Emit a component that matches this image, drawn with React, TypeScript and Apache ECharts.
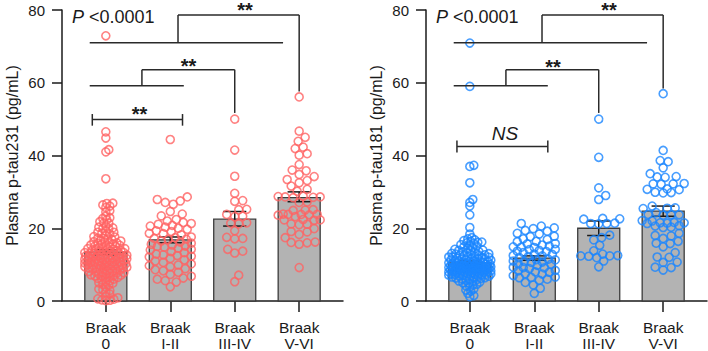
import React, { useEffect, useRef } from "react";
import * as echarts from "echarts";

// ---------- data ----------
const categories = ["Braak\n0", "Braak\nI-II", "Braak\nIII-IV", "Braak\nV-VI"];
const yMax = 80;
const yInterval = 20;

const tau231Mean = [13.4, 16.8, 22.5, 28.4];
const tau231Low = [12.7, 16.0, 20.6, 27.3];
const tau231High = [14.1, 17.6, 24.6, 30.0];

const tau181Mean = [10.5, 11.8, 20.0, 24.7];
const tau181Low = [10.0, 11.2, 18.0, 23.3];
const tau181High = [11.0, 12.4, 22.0, 26.1];

const tau231Braak0 = [72.9, 46.5, 44.8, 41.6, 41.0, 33.6,
  26.8, 26.4, 26.9, 26.1, 25.7, 24.8, 24.5, 23.3, 22.9, 22.7, 21.8, 21.4, 21.5, 20.6, 20.3, 19.8, 19.9, 19.2, 18.9, 18.9,
  18.4, 18.1, 17.7, 17.6, 17.2, 16.9, 16.9, 16.5, 16.3, 16.2, 15.8, 15.7, 15.6, 15.3, 15.1, 15.0, 14.9, 14.6, 14.4, 14.4,
  14.1, 13.9, 13.8, 13.6, 13.3, 13.3, 13.1, 12.8, 12.7, 12.6, 12.4, 12.2, 12.1, 12.0, 11.8, 11.7, 11.5, 11.4, 11.2, 11.0,
  10.9, 10.9, 10.6, 10.5, 10.3, 10.1, 10.0, 9.9, 9.7, 9.6, 9.4, 9.3, 9.1, 8.9, 8.9, 8.7, 8.4, 8.3, 8.2, 7.9, 7.8, 7.6,
  7.4, 7.1, 7.0, 6.8, 6.5, 6.2, 6.0, 5.6, 5.3, 5.0, 4.6, 4.4, 3.8, 3.3, 2.9, 2.4, 1.9, 1.4, 0.9, 0.5, 0.2, 0.1,
  14.7, 13.0, 11.9, 10.7, 9.8, 8.8, 12.5, 11.1, 15.4, 16.0, 10.2, 9.0, 13.7, 12.9, 17.3, 18.6, 8.0, 7.3, 6.6, 5.8,
  20.1, 22.3, 11.6, 10.4, 14.2, 13.5, 12.3, 9.5, 12.6, 11.3, 10.8, 9.2, 8.6, 7.7, 13.2, 14.3, 15.9, 11.8, 10.0, 8.1,
  6.9, 12.0, 13.9, 9.7, 10.6, 11.5, 7.2, 6.3, 4.9, 3.1, 16.6, 15.2, 12.2, 9.4, 0.3, 0.6];
const tau231Braak12 = [44.4, 28.6, 27.9, 27.5, 27.1, 26.6, 24.6, 23.9, 23.4, 22.4, 22.0, 21.6, 21.3, 20.8, 20.6, 20.3,
  20.0, 19.7, 19.3, 19.1, 18.6, 18.2, 17.6, 17.4, 17.2, 17.0, 16.9, 16.5, 16.2, 15.9, 15.6, 15.4, 15.1, 14.8, 14.5,
  14.2, 14.0, 13.6, 13.3, 12.9, 12.7, 12.3, 12.1, 11.7, 11.3, 11.0, 10.6, 10.2, 9.7, 9.4, 8.9, 8.6, 8.3, 7.9, 7.3,
  6.8, 6.3, 6.0, 5.6, 5.2, 3.9, 21.1, 18.5, 15.0, 12.5, 9.9];
const tau231Braak34 = [50.0, 41.5, 34.3, 29.6, 27.4, 27.6, 25.2, 25.1, 23.8, 23.2, 23.3, 21.5, 21.4, 21.2, 19.3, 17.5,
  17.1, 17.2, 14.2, 13.7, 13.2, 7.1, 5.3];
const tau231Braak56 = [56.1, 46.7, 45.0, 43.9, 42.3, 41.9, 40.5, 40.1, 37.5, 36.0, 35.8, 34.8, 34.2, 33.4, 33.1, 32.5,
  31.6, 30.7, 30.2, 28.8, 28.6, 28.5, 28.7, 28.4, 28.6, 27.1, 27.2, 25.0, 25.1, 24.9, 23.8, 23.9, 23.7, 23.8, 23.6,
  23.8, 23.2, 22.3, 22.4, 22.2, 22.3, 21.1, 21.0, 21.2, 19.9, 19.0, 19.1, 18.3, 17.4, 16.1, 16.2, 16.0, 15.6, 9.2];

const tau181Braak0 = [70.9, 59.0, 37.3, 37.0, 32.5, 27.9, 27.1, 26.1, 23.7, 20.2, 18.4, 17.4, 17.1, 16.8, 16.6, 16.4,
  16.2, 16.1, 15.8, 15.5, 15.3, 14.9, 14.7, 14.4, 14.2, 13.9, 13.8, 13.5, 13.3, 13.1, 12.9, 12.7, 12.6, 12.3, 12.1,
  12.0, 11.8, 11.6, 11.5, 11.3, 11.1, 11.0, 10.8, 10.7, 10.5, 10.4, 10.2, 10.1, 9.9, 9.8, 9.7, 9.5, 9.4, 9.2, 9.1,
  9.0, 8.8, 8.7, 8.6, 8.4, 8.3, 8.1, 8.0, 7.9, 7.7, 7.6, 7.4, 7.3, 7.1, 6.9, 6.8, 6.6, 6.4, 6.2, 6.0, 5.7, 5.5, 5.2,
  4.9, 4.6, 4.2, 3.8, 3.3, 2.7, 2.1, 1.5, 1.2,
  9.6, 8.9, 10.3, 7.8, 11.4, 12.4, 8.5, 9.3, 10.9, 7.2, 6.5, 13.0, 11.9, 10.0, 8.2, 9.7, 12.2, 7.5, 14.0, 15.1, 16.0,
  6.1, 5.4, 10.6, 11.7, 8.9, 9.9, 13.6, 7.0, 12.8,
  8.4, 9.1, 7.9, 8.7, 10.2, 9.4, 7.3, 8.1, 9.8, 10.6, 11.2, 7.6, 6.7, 8.8, 9.5, 10.4, 8.0, 7.1, 9.0, 11.6,
  12.1, 6.9, 8.6, 9.3, 10.8, 7.7, 8.3, 9.6, 6.3, 5.9, 10.1, 11.0, 8.5, 7.4, 9.2, 12.6, 13.3, 4.4, 3.0, 5.0];
const tau181Braak12 = [21.3, 20.6, 20.1, 19.9, 19.4, 19.2, 18.6, 18.4, 17.8, 17.7, 17.1, 16.9, 16.4, 16.3, 15.8, 15.7,
  15.1, 14.9, 14.7, 14.2, 14.1, 13.7, 13.6, 13.3, 12.9, 12.8, 12.4, 12.2, 11.9, 11.5, 11.4, 11.0, 10.9, 10.6, 10.2,
  10.1, 9.8, 9.3, 9.2, 8.9, 8.4, 8.3, 7.9, 7.5, 7.4, 7.0, 6.6, 6.4, 6.0, 5.7, 5.1, 4.4, 3.5, 2.1, 12.5, 13.9, 11.3,
  10.7, 9.1, 14.8, 8.0, 15.4, 6.5];
const tau181Braak34 = [50.0, 39.5, 31.1, 29.0, 27.9, 22.7, 22.5, 22.6, 21.3, 21.4, 21.2, 21.3, 18.1, 17.4, 16.8, 15.3,
  13.8, 12.9, 12.4, 12.5, 12.3, 12.4, 11.9, 11.0, 9.4];
const tau181Braak56 = [57.0, 41.4, 38.6, 38.3, 36.6, 35.0, 34.1, 34.2, 34.0, 32.2, 32.3, 32.1, 32.2, 30.7, 30.8, 30.6,
  29.8, 29.9, 29.7, 26.1, 25.5, 25.6, 25.4, 24.3, 23.7, 23.8, 23.6, 23.7, 22.0, 22.1, 21.5, 21.6, 21.4, 21.5, 21.3,
  20.6, 20.7, 20.2, 20.3, 18.6, 17.9, 18.0, 17.2, 16.4, 15.8, 15.9, 14.9, 13.3, 12.0, 12.1, 10.6, 10.7, 9.2, 9.3, 8.5];

// significance brackets, in data coordinates [x1, y1, x2, y2]
const brackets231 = [
  [-0.25, 71, 2.75, 71], [1.12, 71, 1.12, 78.6], [1.12, 78.6, 3.0, 78.6], [3.0, 78.6, 3.0, 57.6],
  [-0.25, 59.2, 1.21, 59.2], [0.56, 59.2, 0.56, 63.6], [0.56, 63.6, 2.0, 63.6], [2.0, 63.6, 2.0, 51.7],
  [-0.21, 49.9, 1.19, 49.9], [-0.21, 48.2, -0.21, 51.4], [1.19, 48.2, 1.19, 51.4],
];
const brackets181 = [
  [-0.25, 71, 2.75, 71], [1.12, 71, 1.12, 78.6], [1.12, 78.6, 3.0, 78.6], [3.0, 78.6, 3.0, 58.4],
  [-0.25, 59.2, 1.21, 59.2], [0.56, 59.2, 0.56, 63.6], [0.56, 63.6, 2.0, 63.6], [2.0, 63.6, 2.0, 51.7],
  [-0.2, 42.5, 1.21, 42.5], [-0.2, 40.8, -0.2, 44.1], [1.21, 40.8, 1.21, 44.1],
];

// ---------- layout ----------
const GRID_TOP = 10;
const GRID_H = 292;
const GRID_W = 281;
const X_MIN = -0.68;
const X_MAX = 3.68;
const FONT = '"Liberation Sans", Arial, Helvetica, sans-serif';
const INK = "#1a1a1a";

function swarm(values: number[], center: number): number[][] {
  const pxY = GRID_H / yMax;
  const pxX = GRID_W / (X_MAX - X_MIN);
  const d = values.length > 100 ? 3.6 : 7.6;
  const maxHalf = 21;
  const order = values.map((_, i) => i).sort((a, b) => values[a] - values[b]);
  const placed: { x: number; y: number }[] = [];
  const out: number[][] = new Array(values.length);
  const cands: number[] = [0];
  for (let k = 1; k <= maxHalf; k++) cands.push(k, -k);
  for (const i of order) {
    const y = values[i] * pxY;
    let best = 0;
    let bestScore = -1;
    for (const c of cands) {
      let minD = Infinity;
      for (const p of placed) {
        const dy = p.y - y;
        if (Math.abs(dy) >= d) continue;
        const dx = p.x - c;
        const dd = Math.sqrt(dx * dx + dy * dy);
        if (dd < minD) minD = dd;
      }
      if (minD >= d) { best = c; bestScore = Infinity; break; }
      if (minD > bestScore) { bestScore = minD; best = c; }
    }
    placed.push({ x: best, y });
    out[i] = [center + best / pxX, values[i]];
  }
  return out;
}

function panelSeries(g: number, means: number[], lows: number[], highs: number[], groups: number[][], segs: number[][], color: string) {
  const points: number[][] = [];
  groups.forEach((vals, i) => swarm(vals, i).forEach((p) => points.push(p)));
  return [
    {
      type: "custom", xAxisIndex: g, yAxisIndex: g, z: 1,
      data: means.map((m, i) => [i, m]),
      encode: { x: 0, y: 1 },
      renderItem: (_p: any, api: any) => {
        const x = api.value(0), y = api.value(1);
        const a = api.coord([x - 0.326, y]);
        const b = api.coord([x + 0.326, 0]);
        return {
          type: "rect",
          shape: { x: a[0], y: a[1], width: b[0] - a[0], height: b[1] - a[1] },
          style: { fill: "#b3b3b3", stroke: "#3c3c3c", lineWidth: 1.3 },
        };
      },
    },
    {
      type: "custom", xAxisIndex: g, yAxisIndex: g, z: 2,
      data: means.map((_, i) => [i, lows[i], highs[i]]),
      encode: { x: 0, y: [1, 2] },
      renderItem: (_p: any, api: any) => {
        const x = api.value(0), lo = api.value(1), hi = api.value(2);
        const p1 = api.coord([x, lo]), p2 = api.coord([x, hi]);
        const l1 = api.coord([x - 0.18, lo]), r1 = api.coord([x + 0.18, lo]);
        const l2 = api.coord([x - 0.18, hi]), r2 = api.coord([x + 0.18, hi]);
        const st = { stroke: INK, lineWidth: 1.5 };
        return {
          type: "group",
          children: [
            { type: "line", shape: { x1: p1[0], y1: p1[1], x2: p2[0], y2: p2[1] }, style: st },
            { type: "line", shape: { x1: l1[0], y1: l1[1], x2: r1[0], y2: r1[1] }, style: st },
            { type: "line", shape: { x1: l2[0], y1: l2[1], x2: r2[0], y2: r2[1] }, style: st },
          ],
        };
      },
    },
    {
      type: "scatter", xAxisIndex: g, yAxisIndex: g, z: 3,
      data: points,
      symbol: "circle",
      symbolSize: 8,
      itemStyle: { color: "rgba(0,0,0,0)", borderColor: color, borderWidth: 1.6 },
    },
    {
      type: "custom", xAxisIndex: g, yAxisIndex: g, z: 4,
      data: segs,
      encode: { x: [0, 2], y: [1, 3] },
      clip: false,
      renderItem: (_p: any, api: any) => {
        const a = api.coord([api.value(0), api.value(1)]);
        const b = api.coord([api.value(2), api.value(3)]);
        return {
          type: "line",
          shape: { x1: a[0], y1: a[1], x2: b[0], y2: b[1] },
          style: { stroke: "#2a2a2a", lineWidth: 1.5 },
        };
      },
    },
  ];
}

function xAxis(g: number) {
  return {
    type: "value", gridIndex: g, min: X_MIN, max: X_MAX,
    splitLine: { show: false },
    axisLine: { show: true, onZero: false, lineStyle: { color: INK, width: 1.5 } },
    axisTick: { show: true, customValues: [0, 1, 2, 3], length: 11, lineStyle: { color: INK, width: 1.5 } },
    axisLabel: {
      show: true, customValues: [0, 1, 2, 3],
      formatter: (v: number) => categories[Math.round(v)],
      margin: 18, fontSize: 15.5, lineHeight: 16, color: INK, fontFamily: FONT,
    },
  };
}

function yAxis(g: number, name: string) {
  return {
    type: "value", gridIndex: g, min: 0, max: yMax, interval: yInterval,
    splitLine: { show: false },
    axisLine: { show: true, onZero: false, lineStyle: { color: INK, width: 1.5 } },
    axisTick: { show: true, length: 10, lineStyle: { color: INK, width: 1.5 } },
    axisLabel: { margin: 17, fontSize: 15, color: INK, fontFamily: FONT },
    name, nameLocation: "middle", nameGap: 42,
    nameTextStyle: { fontSize: 16, color: INK, fontFamily: FONT },
  };
}

function pText(x: number) {
  return {
    type: "text", x, y: 17,
    style: {
      text: "{i|P}{n| <0.0001}",
      verticalAlign: "middle",
      rich: {
        i: { fontStyle: "italic", fontSize: 18, fontFamily: FONT, fill: INK, color: INK },
        n: { fontSize: 18, fontFamily: FONT, fill: INK, color: INK },
      },
    },
  };
}

function stars(x: number, y: number) {
  return {
    type: "text", x, y,
    style: { text: "**", fontSize: 20, fontWeight: "bold", fontFamily: FONT, fill: INK, align: "center", verticalAlign: "middle" },
  };
}

export default function App() {
  const ref = useRef<HTMLDivElement>(null);
  useEffect(() => {
    if (!ref.current) return;
    const chart = echarts.init(ref.current, undefined, { renderer: "svg" });
    chart.setOption({
      animation: false,
      textStyle: { fontFamily: FONT },
      grid: [
        { left: 62, top: GRID_TOP, width: GRID_W, height: GRID_H },
        { left: 426, top: GRID_TOP, width: GRID_W, height: GRID_H },
      ],
      xAxis: [xAxis(0), xAxis(1)],
      yAxis: [yAxis(0, "Plasma p-tau231 (pg/mL)"), yAxis(1, "Plasma p-tau181 (pg/mL)")],
      series: [
        ...panelSeries(0, tau231Mean, tau231Low, tau231High,
          [tau231Braak0, tau231Braak12, tau231Braak34, tau231Braak56], brackets231, "#ff6363"),
        ...panelSeries(1, tau181Mean, tau181Low, tau181High,
          [tau181Braak0, tau181Braak12, tau181Braak34, tau181Braak56], brackets181, "#1a86ff"),
      ],
      graphic: [
        pText(72),
        pText(436),
        stars(245, 9.5),
        stars(188.5, 66),
        stars(139.5, 114),
        stars(609, 9.5),
        stars(553, 66.5),
        {
          type: "text", x: 505, y: 133,
          style: { text: "NS", fontSize: 19, fontStyle: "italic", fontFamily: FONT, fill: INK, align: "center", verticalAlign: "middle" },
        },
      ],
    });
    return () => chart.dispose();
  }, []);
  return <div ref={ref} style={{ width: 708, height: 351, position: "absolute", left: 0, top: 0 }} />;
}
